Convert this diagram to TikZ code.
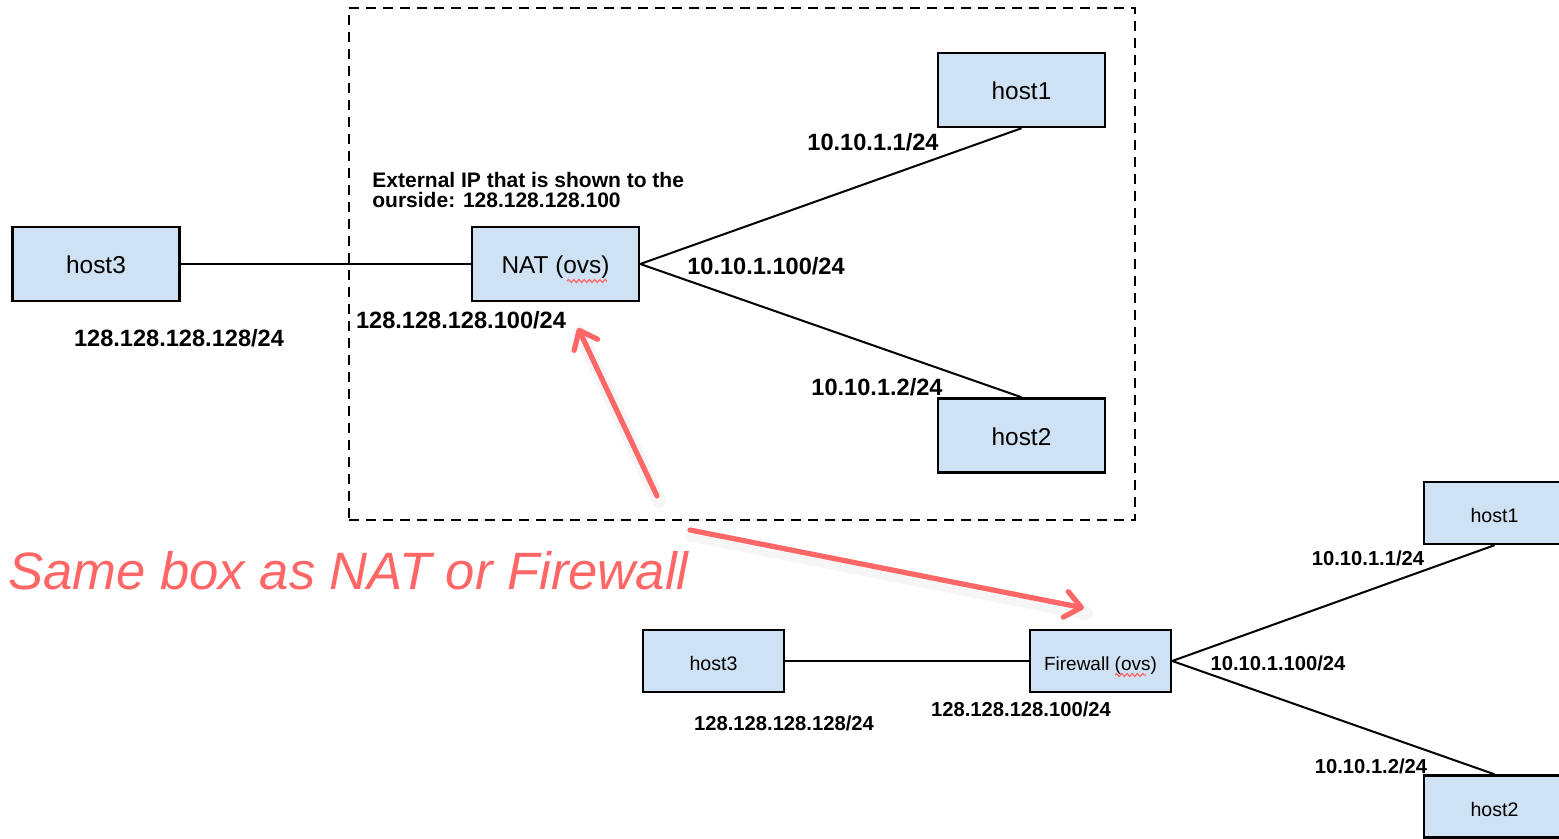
\documentclass[tikz,border=0pt]{standalone}
\usepackage{fontspec}
\setmainfont{Liberation Sans}
\usetikzlibrary{arrows.meta,decorations.pathmorphing}
\definecolor{boxfill}{RGB}{207,226,243}
\definecolor{note}{RGB}{255,102,102}

\begin{document}
\begin{tikzpicture}[x=0.5pt,y=-0.5pt,
  bigbox/.style={draw=black,line width=1.25pt,fill=boxfill,inner sep=0pt,
    text height=0.96em,text depth=0pt,
    minimum width=83.5pt,minimum height=37pt,font=\fontsize{12.2}{14}\selectfont},
  smallbox/.style={draw=black,line width=1.2pt,fill=boxfill,inner sep=0pt,
    text height=0.96em,text depth=0pt,
    minimum width=70.5pt,minimum height=31pt,font=\fontsize{9.8}{12}\selectfont},
  link/.style={draw=black,line width=1pt},
  biglabel/.style={inner sep=0pt,font=\fontsize{11.8}{14}\bfseries\selectfont},
  smalllabel/.style={inner sep=0pt,font=\fontsize{10.1}{12}\bfseries\selectfont},
  nsbox/.style={draw=black,line width=1.25pt,dash pattern=on 5pt off 3.5pt,
    minimum width=393pt,minimum height=256pt,inner sep=0pt},
  pointer/.style={note,line width=2.6pt,line cap=round,
    -{Straight Barb[length=8pt,width=13pt,round]}},
  pshadow/.style={black,opacity=0.035,line width=7pt,line cap=round},
  spell/.style={note,line width=0.6pt,decorate,
    decoration={snake,amplitude=0.75pt,segment length=2.6pt}}
]
\useasboundingbox (0,0) rectangle (1559,839);
\clip (0,0) rectangle (1559,839);

% ---------- upper diagram: NAT ----------
\node[nsbox] (ns) at (742,264) {};

\node[bigbox] (h3a)  at (96,264)     {host3};
\node[bigbox] (nat)  at (555.5,264)  {NAT (ovs)};
\node[bigbox] (h1a)  at (1021.5,90)  {host1};
\node[bigbox] (h2a)  at (1021.5,435.5) {host2};

\draw[link] (h3a.east) -- (nat.west);
\draw[link] (nat.east) -- (h1a.south);
\draw[link] (nat.east) -- (h2a.north);

\draw[spell] (567,281) -- (607,281);

\node[biglabel] (la1) at (873,142)   {10.10.1.1/24};
\node[biglabel] (la2) at (766,266)   {10.10.1.100/24};
\node[biglabel] (la3) at (877,387)   {10.10.1.2/24};
\node[biglabel] (la4) at (461,320)   {128.128.128.100/24};
\node[biglabel] (la5) at (179,338)   {128.128.128.128/24};
\node[inner sep=0pt,anchor=west,align=left,
      font=\fontsize{10.5}{10}\bfseries\selectfont] (ext) at (372,190)
  {External IP that is shown to the\\ourside: 128.128.128.100};

% ---------- lower diagram: Firewall ----------
\node[smallbox] (h3b) at (713.5,661)    {host3};
\node[smallbox,font=\fontsize{9.5}{12}\selectfont] (fw) at (1100.5,661) {Firewall (ovs)};
\node[smallbox] (h1b) at (1494.5,513)   {host1};
\node[smallbox] (h2b) at (1494.5,806.5) {host2};

\draw[link] (h3b.east) -- (fw.west);
\draw[link] (fw.east) -- (h1b.south);
\draw[link] (fw.east) -- (h2b.north);

\draw[spell] (1115,675) -- (1146,675);

\node[smalllabel] (lb1) at (1368,558) {10.10.1.1/24};
\node[smalllabel] (lb2) at (1278,663) {10.10.1.100/24};
\node[smalllabel] (lb3) at (1371,766) {10.10.1.2/24};
\node[smalllabel] (lb4) at (1021,709) {128.128.128.100/24};
\node[smalllabel] (lb5) at (784,723)  {128.128.128.128/24};

% ---------- annotation ----------
\node[inner sep=0pt,anchor=base west,text=note,
      font=\fontsize{26.3}{30}\itshape\selectfont] (same) at (8,589)
  {Same box as NAT or Firewall};

\coordinate (p1s) at (657,496);
\coordinate (p1e) at (578,328);
\coordinate (p2s) at (690,530);
\coordinate (p2e) at (1084,608);

\draw[pshadow] ([shift={(2,5)}]p1s) -- ([shift={(2,5)}]p1e);
\draw[pshadow] ([shift={(2,5)}]p2s) -- ([shift={(2,5)}]p2e);
\draw[pointer] (p1s) -- (p1e);
\draw[pointer] (p2s) -- (p2e);
\end{tikzpicture}
\end{document}
